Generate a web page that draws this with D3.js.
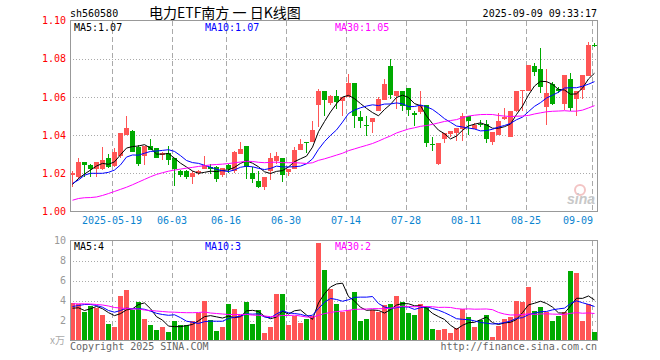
<!DOCTYPE html>
<html lang="zh">
	<head>
		<meta charset="utf-8">
		<title>电力ETF南方 日K线图</title>
		<style type="text/css">

			body {
				margin: 0;
				background-color: white;
			}

			svg {
				display: block;
			}

			text {
				font-family: "DejaVu Sans Mono", monospace;
				font-size: 10px;
			}

			text.title {
				font-family: "Noto Sans CJK SC", sans-serif;
				font-size: 14px;
			}

			.frame {
				fill: none;
				stroke: #999999;
				shape-rendering: crispEdges;
			}

			.hgrid line {
				stroke: #aaaaaa;
				stroke-dasharray: 1,2;
				shape-rendering: crispEdges;
			}

			.vgrid {
				stroke: #aaaaaa;
				stroke-dasharray: 5,3;
				shape-rendering: crispEdges;
			}

			.axis path {
				display: none;
			}

			path.ma {
				fill: none;
				stroke-width: 1px;
			}

			.candle rect, .vol rect, .candle line {
				shape-rendering: crispEdges;
			}

		</style>
	</head>
	<body>

		<script type="text/javascript" src="https://cdnjs.cloudflare.com/ajax/libs/d3/7.8.5/d3.min.js"></script>
		<script type="text/javascript">

			// trading days shown, 2025-05-08 .. 2025-09-09
			var dates = [
				"05-08","05-09","05-12","05-13","05-14","05-15","05-16","05-19","05-20","05-21",
				"05-22","05-23","05-26","05-27","05-28","05-29","05-30","06-03","06-04","06-05",
				"06-06","06-09","06-10","06-11","06-12","06-13","06-16","06-17","06-18","06-19",
				"06-20","06-23","06-24","06-25","06-26","06-27","06-30","07-01","07-02","07-03",
				"07-04","07-07","07-08","07-09","07-10","07-11","07-14","07-15","07-16","07-17",
				"07-18","07-21","07-22","07-23","07-24","07-25","07-28","07-29","07-30","07-31",
				"08-01","08-04","08-05","08-06","08-07","08-08","08-11","08-12","08-13","08-14",
				"08-15","08-18","08-19","08-20","08-21","08-22","08-25","08-26","08-27","08-28",
				"08-29","09-01","09-02","09-03","09-04","09-05","09-08","09-09"
			];

			var open = [
				1.019,1.018,1.026,1.0245,1.0225,1.022,1.028,1.024,1.029,1.040,
				1.042,1.034,1.029,1.0345,1.033,1.0295,1.0305,1.028,1.021,1.021,
				1.018,1.020,1.0225,1.0235,1.0235,1.019,1.0245,1.021,1.030,1.0345,
				1.020,1.016,1.013,1.021,1.0265,1.028,1.0205,1.022,1.032,1.0365,
				1.0365,1.0555,1.063,1.057,1.0605,1.058,1.060,1.0675,1.0495,1.0455,
				1.047,1.0525,1.0585,1.076,1.0605,1.063,1.0645,1.0515,1.052,1.0555,
				1.0355,1.025,1.038,1.0405,1.041,1.043,1.050,1.043,1.046,1.046,
				1.0365,1.040,1.0485,1.039,1.0525,1.063,1.063,1.076,1.0745,1.0545,
				1.0665,1.064,1.0565,1.0695,1.059,1.0635,1.071,1.087
			];

			var high = [
				1.021,1.028,1.026,1.025,1.026,1.034,1.030,1.033,1.041,1.050,
				1.0425,1.035,1.0345,1.038,1.0335,1.031,1.0345,1.028,1.0215,1.0215,
				1.021,1.0215,1.029,1.025,1.024,1.023,1.025,1.0315,1.0365,1.0345,
				1.0235,1.021,1.018,1.0305,1.031,1.028,1.0225,1.034,1.038,1.0365,
				1.0475,1.064,1.063,1.061,1.0635,1.060,1.072,1.0675,1.0525,1.050,
				1.049,1.060,1.0695,1.080,1.063,1.063,1.0645,1.0525,1.063,1.0555,
				1.039,1.036,1.041,1.042,1.0435,1.0515,1.050,1.0465,1.048,1.048,
				1.0415,1.0515,1.054,1.0525,1.063,1.0635,1.0765,1.078,1.0858,1.0745,
				1.068,1.065,1.0715,1.0725,1.063,1.0715,1.0885,1.088
			];

			var low = [
				1.013,1.017,1.018,1.018,1.018,1.0215,1.023,1.0235,1.028,1.040,
				1.031,1.024,1.0245,1.032,1.028,1.027,1.0245,1.0135,1.018,1.017,
				1.0145,1.019,1.022,1.0195,1.0155,1.018,1.020,1.020,1.030,1.017,
				1.015,1.0125,1.011,1.0165,1.025,1.0155,1.0185,1.022,1.032,1.0305,
				1.0365,1.044,1.050,1.056,1.0535,1.050,1.060,1.0435,1.0435,1.0395,
				1.041,1.0525,1.0585,1.059,1.0535,1.0525,1.050,1.045,1.051,1.034,
				1.0315,1.0245,1.036,1.039,1.037,1.037,1.040,1.043,1.044,1.036,
				1.035,1.040,1.048,1.039,1.052,1.0525,1.063,1.0708,1.062,1.0455,
				1.056,1.062,1.053,1.0525,1.050,1.059,1.071,1.086
			];

			var close = [
				1.020,1.026,1.0245,1.0225,1.026,1.027,1.0235,1.031,1.041,1.0435,
				1.031,1.025,1.0345,1.032,1.028,1.0305,1.027,1.022,1.019,1.018,
				1.020,1.021,1.0245,1.022,1.017,1.023,1.0225,1.031,1.0325,1.0235,
				1.017,1.013,1.018,1.028,1.029,1.019,1.0225,1.032,1.0355,1.036,
				1.0425,1.063,1.0585,1.0605,1.0575,1.060,1.0675,1.050,1.0475,1.045,
				1.049,1.059,1.0665,1.061,1.063,1.055,1.053,1.0505,1.0555,1.036,
				1.035,1.036,1.041,1.042,1.0435,1.050,1.0475,1.0455,1.0455,1.038,
				1.0415,1.0475,1.0495,1.0525,1.063,1.0635,1.0765,1.073,1.065,1.062,
				1.0565,1.063,1.0715,1.054,1.063,1.0715,1.087,1.0865
			];

			// volume, in 万
			var volume = [
				3.73,3.67,2.9,3.5,3.23,2.6,1.7,1.4,4.5,5.1,
				3.1,3.9,2.2,1.6,1.1,1.4,0.9,1.93,1.6,1.6,
				2.0,2.73,4.0,2.1,1.0,1.4,3.7,3.2,2.6,3.9,
				1.7,3.1,0.8,1.4,4.7,4.7,1.6,2.47,1.8,2.2,
				2.5,9.8,7.1,5.17,3.7,2.9,3.1,4.9,2.0,2.2,
				3.1,2.83,3.6,3.7,4.5,3.83,2.73,2.6,3.7,3.33,
				1.2,1.1,1.2,0.8,1.3,3.2,2.4,1.4,2.1,2.6,
				0.4,1.5,2.2,2.4,4.0,3.83,5.4,3.0,3.4,2.9,
				2.0,2.5,2.9,7.0,6.73,1.93,3.7,0.9
			];

			// moving averages before the window is full depend on earlier days
			var ma5Head = [1.0142,1.0173,1.0196,1.0217];
			var ma10Head = [1.0147,1.0165,1.019,1.020,1.020,1.020,1.0205,1.0217,1.0244];
			var ma30Head = [
				1.0059,1.0068,1.0072,1.0073,1.0076,1.0084,1.0094,1.0105,1.0116,1.0127,
				1.0140,1.0154,1.0168,1.0182,1.0194,1.0203,1.0211,1.0217,1.0222,1.0227,
				1.0231,1.0236,1.0240,1.0244,1.0246,1.0248,1.0251,1.0255,1.0259
			];
			var volMa5Head = [3.23,3.27,3.0,3.17];
			var volMa10Head = [3.4,3.5,3.6,3.6,3.5,3.33,3.0,2.83,3.0];
			var volMa30Head = [
				3.67,3.67,3.67,3.65,3.6,3.55,3.45,3.3,3.25,3.2,
				3.15,3.15,3.05,3.0,2.95,2.9,2.85,2.83,2.8,2.78,
				2.78,2.8,2.85,2.75,2.7,2.65,2.6,2.6,2.6
			];

			var priceTicks = [1.00, 1.02, 1.04, 1.06, 1.08, 1.10];
			var volTicks = [2, 4, 6, 8, 10];
			var tickDates = ["05-19","06-03","06-16","06-30","07-14","07-28","08-11","08-25","09-09"];
			var tickLabels = ["2025-05-19","06-03","06-16","06-30","07-14","07-28","08-11","08-25","09-09"];
			var priceLegend = ["MA5:1.07", "MA10:1.07", "MA30:1.05"];
			var volLegend = ["MA5:4", "MA10:3", "MA30:2"];

			var red = "#ff5555";
			var green = "#00aa00";
			var maColors = ["#000000", "#0000ff", "#ff00ff"];

			var fullwidth = 660;
			var fullheight = 360;
			var left = 70, right = 598;
			var priceTop = 20.5, priceBottom = 211.5;
			var volTop = 240.5, volBottom = 340.5;

			var svg = d3.select("body")
						.append("svg")
						.attr("width", fullwidth)
						.attr("height", fullheight);

			var xScale = d3.scaleBand()
								.domain(dates)
								.range([left, right]);

			var yScale = d3.scaleLinear()
								.domain([1.00, 1.10])
								.range([priceBottom, priceTop]);

			var vScale = d3.scaleLinear()
								.domain([0, 10])
								.range([volBottom, volTop]);

			function movingAvg(values, n, head) {
				return values.map(function(v, i) {
					if (i < n - 1) return head[i];
					return d3.mean(values.slice(i - n + 1, i + 1));
				});
			}

			var priceMAs = [
				movingAvg(close, 5, ma5Head),
				movingAvg(close, 10, ma10Head),
				movingAvg(close, 30, ma30Head)
			];
			var volMAs = [
				movingAvg(volume, 5, volMa5Head),
				movingAvg(volume, 10, volMa10Head),
				movingAvg(volume, 30, volMa30Head)
			];

			var bars = dates.map(function(d, i) {
				return { date: d, o: open[i], h: high[i], l: low[i], c: close[i], v: volume[i] };
			});

			function center(d) {
				return xScale(d) + 2.5;
			}

			// header
			svg.append("text")
				.attr("x", 70)
				.attr("y", 17)
				.text("sh560580");

			svg.append("text")
				.attr("class", "title")
				.attr("x", 149)
				.attr("y", 18)
				.text("电力ETF南方 一 日K线图");

			svg.append("text")
				.attr("x", 597)
				.attr("y", 17)
				.attr("text-anchor", "end")
				.text("2025-09-09 09:33:17");

			// grid lines
			svg.append("g")
				.attr("class", "hgrid")
				.attr("transform", "translate(" + left + ",0)")
				.call(d3.axisLeft(yScale)
					.tickValues(priceTicks.slice(1, -1))
					.tickSize(-(right - left))
					.tickFormat(""))
				.select(".domain").remove();

			svg.append("g")
				.attr("class", "hgrid")
				.attr("transform", "translate(" + left + ",0)")
				.call(d3.axisLeft(vScale)
					.tickValues(volTicks.slice(0, -1))
					.tickSize(-(right - left))
					.tickFormat(""))
				.select(".domain").remove();

			svg.selectAll("line.vgrid.price")
				.data(tickDates)
				.enter()
				.append("line")
				.attr("class", "vgrid price")
				.attr("x1", function(d) { return xScale(d) + 0.5; })
				.attr("x2", function(d) { return xScale(d) + 0.5; })
				.attr("y1", priceTop)
				.attr("y2", priceBottom);

			svg.selectAll("line.vgrid.volume")
				.data(tickDates)
				.enter()
				.append("line")
				.attr("class", "vgrid volume")
				.attr("x1", function(d) { return xScale(d) + 0.5; })
				.attr("x2", function(d) { return xScale(d) + 0.5; })
				.attr("y1", volTop)
				.attr("y2", volBottom);

			// price axis labels
			var yAxisG = svg.append("g")
				.attr("class", "axis")
				.attr("transform", "translate(" + left + ",0)")
				.call(d3.axisLeft(yScale)
					.tickValues(priceTicks)
					.tickSize(0)
					.tickPadding(4)
					.tickFormat(d3.format(".2f")));
			yAxisG.selectAll("text")
				.attr("fill", "#ff0000")
				.style("font-family", "DejaVu Sans Mono, monospace")
				.style("font-size", "10px");

			var vAxisG = svg.append("g")
				.attr("class", "axis")
				.attr("transform", "translate(" + left + ",0)")
				.call(d3.axisLeft(vScale)
					.tickValues(volTicks)
					.tickSize(0)
					.tickPadding(4));
			vAxisG.selectAll("text")
				.attr("fill", "#999999")
				.style("font-family", "DejaVu Sans Mono, monospace")
				.style("font-size", "10px");

			svg.append("text")
				.attr("x", 65)
				.attr("y", 344)
				.attr("text-anchor", "end")
				.attr("fill", "#aaaaaa")
				.style("font-family", "Noto Sans CJK SC, sans-serif")
				.text("x万");

			// date labels
			svg.selectAll("text.date")
				.data(tickDates)
				.enter()
				.append("text")
				.attr("class", "date")
				.attr("x", function(d, i) {
					return i == tickDates.length - 1 ? xScale(d) + 1 : xScale(d);
				})
				.attr("y", 224)
				.attr("text-anchor", function(d, i) {
					return i == tickDates.length - 1 ? "end" : "middle";
				})
				.attr("fill", "#0a84d0")
				.text(function(d, i) { return tickLabels[i]; });

			// watermark
			svg.append("circle")
				.attr("cx", 580)
				.attr("cy", 190)
				.attr("r", 5)
				.attr("fill", "none")
				.attr("stroke", "#f3c4c4")
				.attr("stroke-width", 2);
			svg.append("text")
				.attr("x", 581)
				.attr("y", 204)
				.attr("text-anchor", "middle")
				.attr("fill", "#c8c8c8")
				.style("font-family", "Liberation Sans, Arial, sans-serif")
				.style("font-size", "14px")
				.style("font-style", "italic")
				.style("font-weight", "bold")
				.text("sina");

			// candles
			var candles = svg.selectAll("g.candle")
				.data(bars)
				.enter()
				.append("g")
				.attr("class", "candle")
				.attr("fill", function(d) { return d.c >= d.o ? red : green; })
				.attr("stroke", function(d) { return d.c >= d.o ? red : green; });

			candles.append("line")
				.attr("x1", function(d) { return center(d.date); })
				.attr("x2", function(d) { return center(d.date); })
				.attr("y1", function(d) { return yScale(d.h); })
				.attr("y2", function(d) { return yScale(d.l); });

			candles.append("rect")
				.attr("stroke", "none")
				.attr("x", function(d) { return xScale(d.date); })
				.attr("width", xScale.bandwidth() - 1)
				.attr("y", function(d) { return yScale(Math.max(d.o, d.c)); })
				.attr("height", function(d) {
					return Math.max(1, Math.abs(yScale(d.o) - yScale(d.c)));
				});

			// volume bars
			svg.selectAll("g.vol")
				.data([bars])
				.enter()
				.append("g")
				.attr("class", "vol")
				.selectAll("rect")
				.data(function(d) { return d; })
				.enter()
				.append("rect")
				.attr("x", function(d) { return xScale(d.date); })
				.attr("width", xScale.bandwidth() - 1)
				.attr("y", function(d) { return vScale(d.v); })
				.attr("height", function(d) { return volBottom - vScale(d.v); })
				.attr("fill", function(d) { return d.c >= d.o ? red : green; });

			// moving average lines
			var priceLine = d3.line()
				.x(function(d, i) { return center(dates[i]); })
				.y(function(d) { return yScale(d); });

			var volLine = d3.line()
				.x(function(d, i) { return center(dates[i]); })
				.y(function(d) { return vScale(d); });

			svg.selectAll("path.ma.price")
				.data(priceMAs)
				.enter()
				.append("path")
				.attr("class", "ma price")
				.attr("stroke", function(d, i) { return maColors[i]; })
				.attr("d", priceLine);

			svg.selectAll("path.ma.volume")
				.data(volMAs)
				.enter()
				.append("path")
				.attr("class", "ma volume")
				.attr("stroke", function(d, i) { return maColors[i]; })
				.attr("d", volLine);

			// frames
			svg.append("rect")
				.attr("class", "frame")
				.attr("x", left + 0.5)
				.attr("y", priceTop)
				.attr("width", right - left - 1)
				.attr("height", priceBottom - priceTop);

			svg.append("rect")
				.attr("class", "frame")
				.attr("x", left + 0.5)
				.attr("y", volTop)
				.attr("width", right - left - 1)
				.attr("height", volBottom - volTop);

			// legends
			var legendX = [74, 205, 335];

			svg.selectAll("text.plegend")
				.data(priceLegend)
				.enter()
				.append("text")
				.attr("class", "plegend")
				.attr("x", function(d, i) { return legendX[i]; })
				.attr("y", 31)
				.attr("fill", function(d, i) { return maColors[i]; })
				.text(function(d) { return d; });

			svg.selectAll("text.vlegend")
				.data(volLegend)
				.enter()
				.append("text")
				.attr("class", "vlegend")
				.attr("x", function(d, i) { return legendX[i]; })
				.attr("y", 250)
				.attr("fill", function(d, i) { return maColors[i]; })
				.text(function(d) { return d; });

			// footer
			svg.append("text")
				.attr("x", 70)
				.attr("y", 350)
				.attr("fill", "#666666")
				.text("Copyright 2025 SINA.COM");

			svg.append("text")
				.attr("x", 597)
				.attr("y", 350)
				.attr("text-anchor", "end")
				.attr("fill", "#666666")
				.text("http://finance.sina.com.cn");

		</script>

	</body>
</html>
